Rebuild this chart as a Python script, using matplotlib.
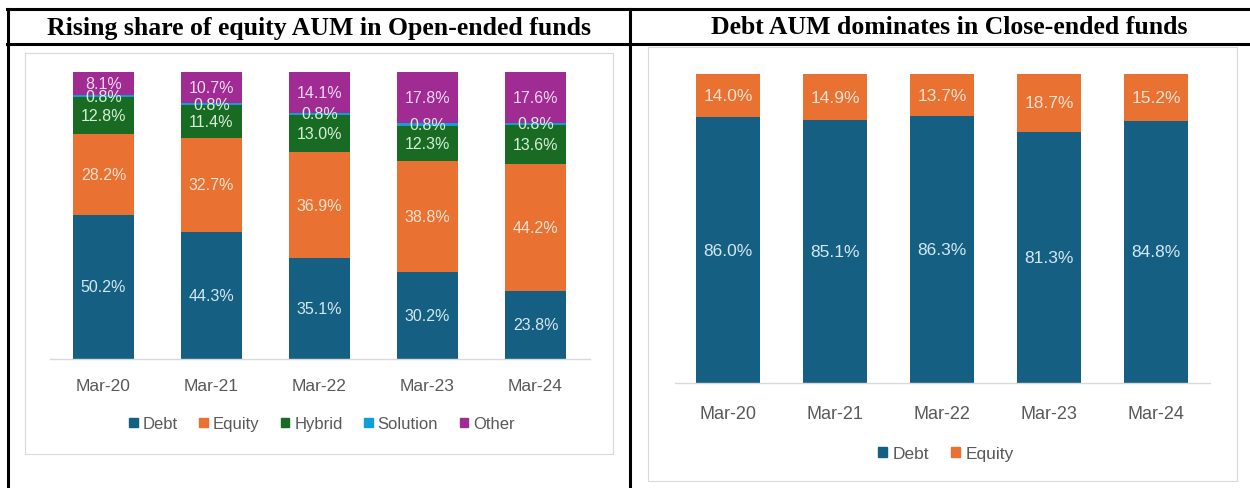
import matplotlib
matplotlib.use("Agg")
import matplotlib.pyplot as plt
from matplotlib.lines import Line2D
from matplotlib.patches import Rectangle, Patch

W, H = 1250, 489

# Open-ended fund AUM mix (%)
years = ["Mar-20", "Mar-21", "Mar-22", "Mar-23", "Mar-24"]
open_debt = [50.2, 44.3, 35.1, 30.2, 23.8]
open_equity = [28.2, 32.7, 36.9, 38.8, 44.2]
open_hybrid = [12.8, 11.4, 13.0, 12.3, 13.6]
open_solution = [0.8, 0.8, 0.8, 0.8, 0.8]
open_other = [8.1, 10.7, 14.1, 17.8, 17.6]

# Close-ended fund AUM mix (%)
close_debt = [86.0, 85.1, 86.3, 81.3, 84.8]
close_equity = [14.0, 14.9, 13.7, 18.7, 15.2]

C_DEBT = "#156082"
C_EQUITY = "#E97132"
C_HYBRID = "#196B24"
C_SOLUTION = "#0F9ED5"
C_OTHER = "#A02B93"

SANS = ["Liberation Sans", "DejaVu Sans"]
GREY = "#595959"


def px(x0, y0, x1, y1):
    """pixel box (top-left origin) -> figure rect"""
    return [x0 / W, 1 - y1 / H, (x1 - x0) / W, (y1 - y0) / H]


def hline(fig, x0, x1, y, lw=2.2, color="black"):
    fig.add_artist(Line2D([x0 / W, x1 / W], [1 - y / H, 1 - y / H],
                          transform=fig.transFigure, color=color, lw=lw))


def vline(fig, x, y0, y1, lw=2.2, color="black"):
    fig.add_artist(Line2D([x / W, x / W], [1 - y0 / H, 1 - y1 / H],
                          transform=fig.transFigure, color=color, lw=lw))


def panel_box(fig, x0, y0, x1, y1):
    r = px(x0, y0, x1, y1)
    fig.add_artist(Rectangle((r[0], r[1]), r[2], r[3], transform=fig.transFigure,
                             fill=False, edgecolor="#D9D9D9", lw=0.8))


def stacked(ax, series, width, label_size, tick_pad, tick_size):
    x = range(len(years))
    bottom = [0.0] * len(years)
    for vals, color, txt_color in series:
        bars = ax.bar(x, vals, width, bottom=bottom, color=color, zorder=2)
        for b, v, b0 in zip(bars, vals, bottom):
            ax.text(b.get_x() + b.get_width() / 2, b0 + v / 2, f"{v:.1f}%",
                    ha="center", va="center", color=txt_color,
                    fontsize=label_size, family=SANS, zorder=3)
        bottom = [b0 + v for b0, v in zip(bottom, vals)]
    ax.set_xlim(-0.5, len(years) - 0.5)
    ax.set_ylim(0, 100)
    ax.set_yticks([])
    for s in ["top", "right", "left"]:
        ax.spines[s].set_visible(False)
    ax.spines["bottom"].set_color("#D9D9D9")
    ax.spines["bottom"].set_linewidth(1.0)
    ax.set_xticks(list(x))
    ax.set_xticklabels(years, color=GREY, fontsize=tick_size, family=SANS)
    ax.tick_params(axis="x", length=0, pad=tick_pad)
    ax.patch.set_alpha(0)


fig = plt.figure(figsize=(W / 100, H / 100), dpi=100)

# table frame (right edge of the table runs past the canvas)
hline(fig, 7, W, 10)
hline(fig, 7, W, 45)
vline(fig, 8, 10, H)
vline(fig, 630, 10, H)

title_kw = dict(ha="center", va="center", fontsize=18.5, fontweight="bold",
                family=["Liberation Serif", "DejaVu Serif"])
fig.text(319 / W, 1 - 28 / H, "Rising share of equity AUM in Open-ended funds", **title_kw)
fig.text(949 / W, 1 - 28 / H, "Debt AUM dominates in Close-ended funds", **title_kw)

panel_box(fig, 25, 54, 613, 455)
panel_box(fig, 648, 48, 1237, 482)

# left: open-ended
ax1 = fig.add_axes(px(49.5, 73, 589.5, 360))
stacked(ax1, [
    (open_debt, C_DEBT, "#D2E8F5"),
    (open_equity, C_EQUITY, "#FDE2CF"),
    (open_hybrid, C_HYBRID, "#D5EFD6"),
    (open_solution, C_SOLUTION, "#D5EFD6"),
    (open_other, C_OTHER, "#F6D8F1"),
], width=0.565, label_size=11.5, tick_pad=14, tick_size=12.5)
h1 = [Patch(color=c) for c in [C_DEBT, C_EQUITY, C_HYBRID, C_SOLUTION, C_OTHER]]
fig.legend(h1, ["Debt", "Equity", "Hybrid", "Solution", "Other"],
           loc="center", bbox_to_anchor=(322 / W, 1 - 425 / H), ncol=5,
           frameon=False, handlelength=0.5, handleheight=0.5, handletextpad=0.3,
           columnspacing=1.3, prop={"family": SANS, "size": 12}, labelcolor=GREY)

# right: close-ended
ax2 = fig.add_axes(px(674.5, 75, 1209.5, 384))
stacked(ax2, [
    (close_debt, C_DEBT, "#D2E8F5"),
    (close_equity, C_EQUITY, "#FDE2CF"),
], width=0.607, label_size=12.5, tick_pad=16, tick_size=13)
h2 = [Patch(color=c) for c in [C_DEBT, C_EQUITY]]
fig.legend(h2, ["Debt", "Equity"],
           loc="center", bbox_to_anchor=(946 / W, 1 - 455 / H), ncol=2,
           frameon=False, handlelength=0.5, handleheight=0.5, handletextpad=0.3,
           columnspacing=1.3, prop={"family": SANS, "size": 12.5}, labelcolor=GREY)

fig.savefig("out.png", dpi=100, facecolor="white")
